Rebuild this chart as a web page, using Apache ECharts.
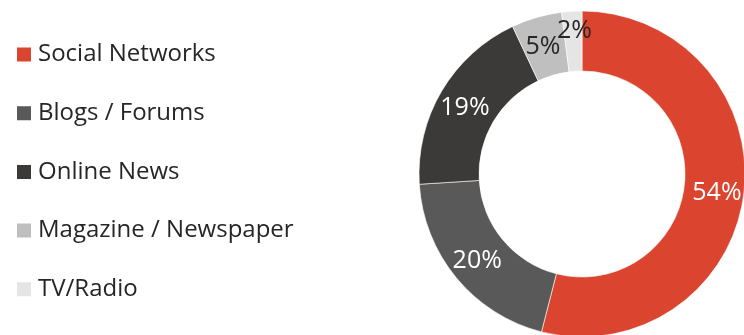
<!DOCTYPE html>
<html>
<head>
<meta charset="utf-8">
<script src="https://cdn.jsdelivr.net/npm/echarts@6/dist/echarts.min.js"></script>
<style>
  html, body { margin: 0; padding: 0; background: #fff; }
  #chart { width: 744px; height: 335px; }
</style>
</head>
<body>
<div id="chart"></div>
<script>
// Share of mentions by media channel
const categories = ['Social Networks', 'Blogs / Forums', 'Online News', 'Magazine / Newspaper', 'TV/Radio'];
const shares = [54, 20, 19, 5, 2];
const sliceColors = ['#DB442E', '#595959', '#3B3A38', '#BFBFBF', '#E5E5E5'];
const labelColors = ['#ffffff', '#ffffff', '#ffffff', '#262626', '#262626'];
// small nudges so the two thin slices' labels do not collide
const labelNudges = [[0, 2], [0, 0], [0, 3], [-1, 3], [1, -7]];

const chart = echarts.init(document.getElementById('chart'), null, { renderer: 'canvas' });

const data = categories.map((name, i) => ({
  name: name,
  value: shares[i],
  itemStyle: { color: sliceColors[i] },
  label: { color: labelColors[i], offset: labelNudges[i] }
}));

chart.setOption({
  animation: false,
  backgroundColor: '#ffffff',
  legend: {
    orient: 'vertical',
    left: 15,
    top: 42.5,
    padding: 0,
    icon: 'rect',
    itemWidth: 16,
    itemHeight: 16,
    itemGap: 34.7,
    textStyle: {
      fontFamily: 'Open Sans',
      fontSize: 24,
      lineHeight: 24,
      color: '#262626',
      padding: [0, 0, 0, 1]
    },
    data: categories
  },
  series: [{
    type: 'pie',
    center: [582, 174],
    radius: [103, 163],
    startAngle: 90,
    clockwise: true,
    avoidLabelOverlap: false,
    itemStyle: { borderColor: '#ffffff', borderWidth: 0.6 },
    label: {
      show: true,
      position: 'inside',
      formatter: '{c}%',
      fontFamily: 'Open Sans',
      fontSize: 25
    },
    labelLayout: { hideOverlap: false },
    labelLine: { show: false },
    emphasis: { disabled: true },
    data: data
  }]
});
</script>
</body>
</html>
